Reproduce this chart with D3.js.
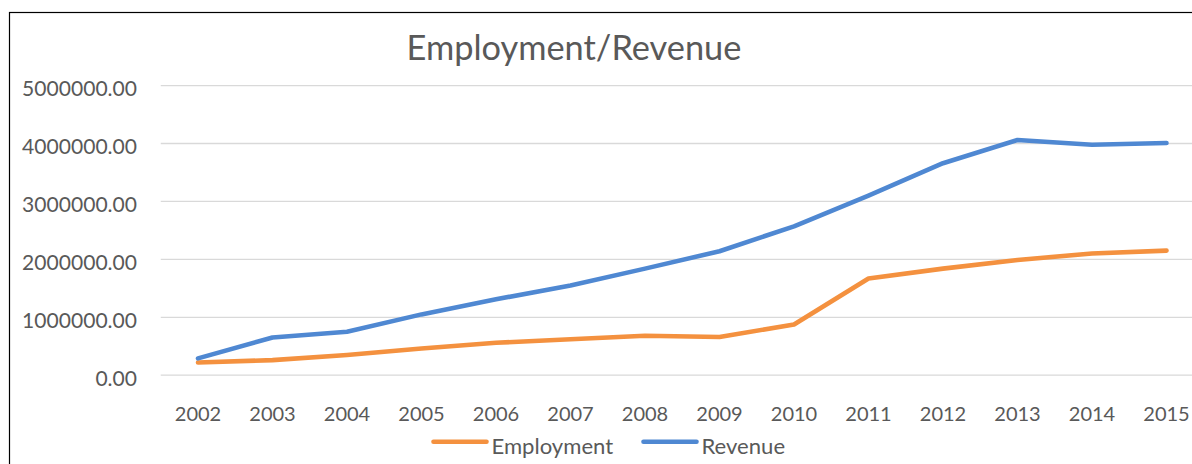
<!DOCTYPE html>
<html>
<head>
<meta charset="utf-8">
<script src="https://cdn.jsdelivr.net/npm/d3@7"></script>
<style>
  html, body { margin: 0; padding: 0; background: #fff; }
  svg { display: block; font-family: Lato, "Open Sans", sans-serif; }
</style>
</head>
<body>
<svg id="chart" width="1192" height="464"></svg>
<script>
// ---- data ----
const years = ["2002","2003","2004","2005","2006","2007","2008","2009","2010","2011","2012","2013","2014","2015"];
const employment = [220000, 260000, 350000, 460000, 560000, 620000, 680000, 660000, 875000, 1670000, 1840000, 1990000, 2100000, 2150000];
const revenue = [290000, 650000, 750000, 1050000, 1310000, 1550000, 1840000, 2140000, 2570000, 3100000, 3660000, 4060000, 3980000, 4010000];
const yTicks = [0, 1000000, 2000000, 3000000, 4000000, 5000000];
const seriesNames = ["Employment", "Revenue"];
const chartTitle = "Employment/Revenue";

// ---- layout / style ----
const colors = { Employment: "#F4913F", Revenue: "#4F88D2" };
const textColor = "#595959";
const svg = d3.select("#chart");

// helper: font size fitting a target width
function fitSize(str, targetW) {
  const t = svg.append("text").attr("font-size", 100).text(str);
  const w = t.node().getComputedTextLength();
  t.remove();
  return 100 * targetW / w;
}

// frame
svg.append("rect").attr("x", 9.5).attr("y", 12.5).attr("width", 1400).attr("height", 600)
  .attr("fill", "none").attr("stroke", "#000").attr("stroke-width", 1.2);

const x = d3.scaleBand().domain(years).range([160.75, 1203.75]);
const xc = d => x(d) + x.bandwidth() / 2;
const y = d3.scaleLinear().domain([0, 5000000]).range([375.2, 85.6]);

// gridlines
svg.append("g").selectAll("line").data(yTicks).join("line")
  .attr("x1", 160.75).attr("x2", 1203.75)
  .attr("y1", d => y(d)).attr("y2", d => y(d))
  .attr("stroke", "#d9d9d9").attr("stroke-width", 1.3);

// y axis
const yFs = fitSize("5000000.00", 115);
const yAxis = svg.append("g").attr("transform", "translate(137,0)")
  .call(d3.axisLeft(y).tickValues(yTicks).tickFormat(d3.format(".2f")).tickSize(0).tickPadding(0));
yAxis.select(".domain").remove();
yAxis.selectAll("text").attr("font-size", yFs).attr("fill", textColor)
  .attr("font-family", "Lato, 'Open Sans', sans-serif").attr("dy", "0.47em");

// x axis
const xFs = fitSize("2002", 46.5);
const xAxis = svg.append("g").attr("transform", "translate(0,375.2)")
  .call(d3.axisBottom(x).tickSize(0).tickPadding(0));
xAxis.select(".domain").remove();
xAxis.selectAll("text").attr("font-size", xFs).attr("fill", textColor)
  .attr("font-family", "Lato, 'Open Sans', sans-serif").attr("dy", null).attr("y", 45.5);

// lines
const line = d3.line().x((d, i) => xc(years[i])).y(d => y(d));
const seriesData = { Employment: employment, Revenue: revenue };
seriesNames.forEach(name => {
  svg.append("path").datum(seriesData[name])
    .attr("d", line).attr("fill", "none")
    .attr("stroke", colors[name]).attr("stroke-width", 4.6)
    .attr("stroke-linejoin", "round").attr("stroke-linecap", "round");
});

// title
const tFs = fitSize(chartTitle, 335);
svg.append("text").attr("x", 574).attr("y", 59.5).attr("text-anchor", "middle")
  .attr("font-size", tFs).attr("fill", textColor).text(chartTitle);

// legend
const legFs = fitSize("Employment", 121.7);
const legPos = [{ x1: 433.5, x2: 486.5, tx: 491.5 }, { x1: 643.5, x2: 696.5, tx: 701.5 }];
const leg = svg.append("g");
seriesNames.forEach((name, i) => {
  const p = legPos[i];
  leg.append("line").attr("x1", p.x1).attr("x2", p.x2).attr("y1", 441.8).attr("y2", 441.8)
    .attr("stroke", colors[name]).attr("stroke-width", 4.6).attr("stroke-linecap", "round");
  leg.append("text").attr("x", p.tx).attr("y", 454).attr("font-size", legFs)
    .attr("fill", textColor).text(name);
});
</script>
</body>
</html>
